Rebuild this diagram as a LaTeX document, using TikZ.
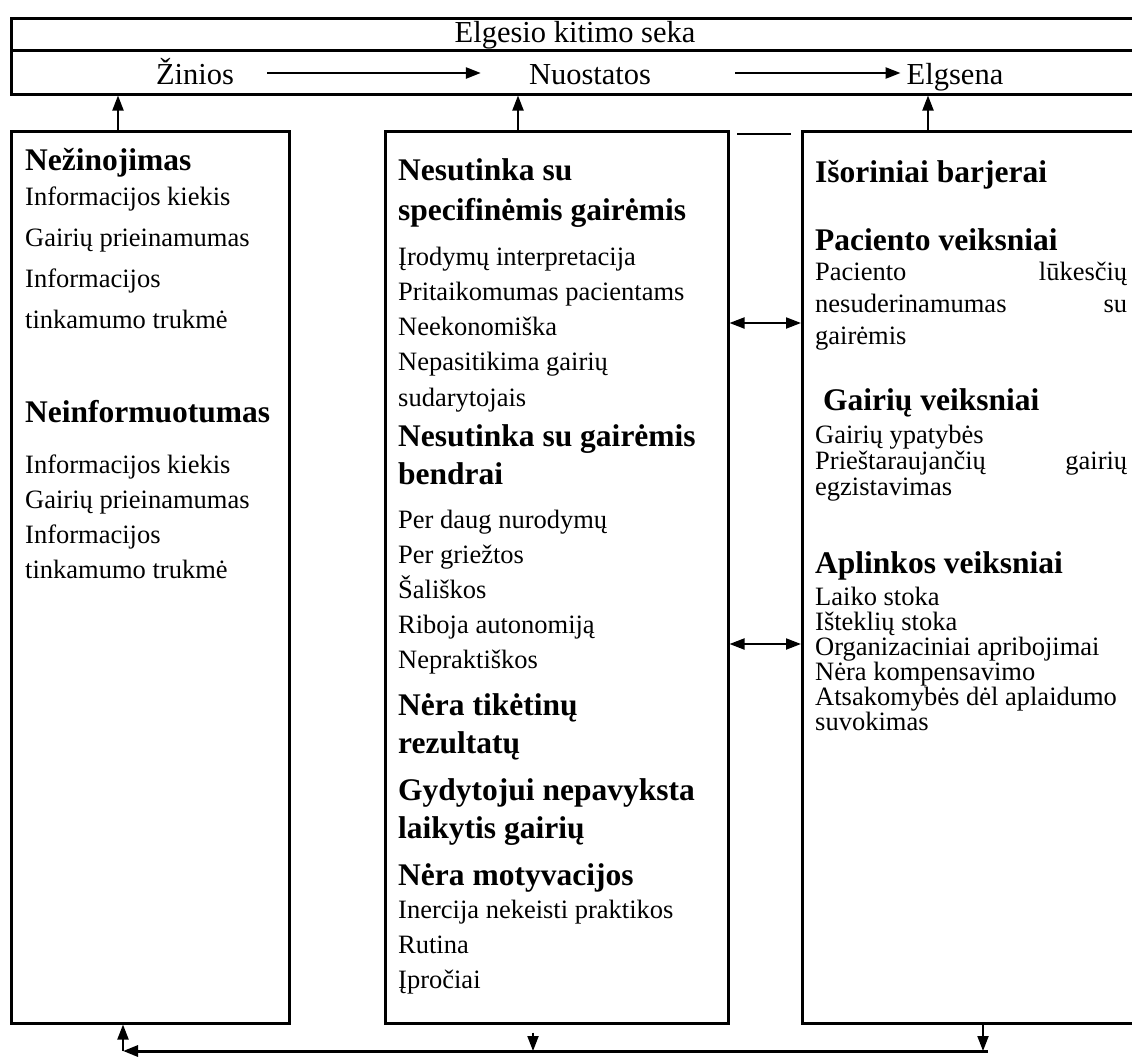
\documentclass[tikz,border=0pt]{standalone}
\usepackage{fontspec}
\setmainfont{Liberation Serif}
\usetikzlibrary{arrows.meta}

\begin{document}
\begin{tikzpicture}[x=1pt,y=-1pt,
    box/.style={draw,line width=2.5pt,anchor=north west,inner sep=0pt},
    hdr/.style={inner sep=0pt,font=\fontsize{30.5pt}{34pt}\selectfont},
    head/.style={anchor=base west,inner sep=0pt,align=left,font=\bfseries\fontsize{31.5pt}{#1}\selectfont},
    head/.default=38pt,
    body/.style={anchor=base west,inner sep=0pt,align=left,font=\fontsize{26.5pt}{#1}\selectfont},
    body/.default=35pt,
    arr/.style={-{Triangle[length=15pt,width=11pt]},line width=2pt},
    darr/.style={{Triangle[length=15pt,width=11pt]}-{Triangle[length=15pt,width=11pt]},line width=2pt}]
    \clip (0,0) rectangle (1132,1058);
    \fill[white] (0,0) rectangle (1132,1058);
    % header
    \node[box,minimum width=1135pt,minimum height=32pt] (seq) at (10,17) {};
    \node[box,minimum width=1135pt,minimum height=44pt] (row) at (10,49) {};
    \node[hdr,anchor=base] (seka) at (575,42) {Elgesio kitimo seka};
    \node[hdr,anchor=base] (zin) at (195,84) {Žinios};
    \node[hdr,anchor=base] (nuo) at (590,84) {Nuostatos};
    \node[hdr,anchor=base] (elg) at (955,84) {Elgsena};
    \coordinate (mid) at (0,73);
    \draw [arr,line width=2.5pt] ([xshift=33pt]zin.east |- mid) -- ([xshift=-48pt]nuo.west |- mid);
    \draw [arr,line width=2.5pt] ([xshift=84pt]nuo.east |- mid) -- ([xshift=-6pt]elg.west |- mid);
    % boxes
    \node[box,minimum width=278pt,minimum height=892pt] (lbox) at (10,130) {};
    \node[box,minimum width=343pt,minimum height=892pt] (mbox) at (384,130) {};
    \node[box,minimum width=345pt,minimum height=892pt] (rbox) at (801,130) {};
    \coordinate (lup) at (118,130);
    \coordinate (mup) at (518,130);
    \coordinate (rup) at (928,130);
    \draw [arr] (lup) -- (lup |- row.south);
    \draw [arr] (mup) -- (mup |- row.south);
    \draw [arr] (rup) -- (rup |- row.south);
    \draw [line width=2pt] (737,134) -- (791,134);
    % left (multi-line nodes sit on their last line)
    \node[head] (nez) at (25,170) {Nežinojimas};
    \node[body=40.7pt] (nezl) at (25,328) {Informacijos kiekis\\Gairių prieinamumas\\Informacijos\\tinkamumo trukmė};
    \node[head] (nei) at (25,422) {Neinformuotumas};
    \node[body=35pt] (neil) at (25,578) {Informacijos kiekis\\Gairių prieinamumas\\Informacijos\\tinkamumo trukmė};
    % middle
    \node[head=40pt] (spec) at (398,220) {Nesutinka su\\specifinėmis gairėmis};
    \node[body=35.25pt] (specl) at (398,406) {Įrodymų interpretacija\\Pritaikomumas pacientams\\Neekonomiška\\Nepasitikima gairių\\sudarytojais};
    \node[head] (bend) at (398,484) {Nesutinka su gairėmis\\bendrai};
    \node[body] (bendl) at (398,668) {Per daug nurodymų\\Per griežtos\\Šališkos\\Riboja autonomiją\\Nepraktiškos};
    \node[head] (rez) at (398,753) {Nėra tikėtinų\\rezultatų};
    \node[head] (gyd) at (398,838) {Gydytojui nepavyksta\\laikytis gairių};
    \node[head] (mot) at (398,885) {Nėra motyvacijos};
    \node[body] (motl) at (398,988) {Inercija nekeisti praktikos\\Rutina\\Įpročiai};
    % right
    \node[head] (isor) at (815,182) {Išoriniai barjerai};
    \node[head] (pac) at (815,250) {Paciento veiksniai};
    \node[body=32pt] (pacl) at (815,344) {\makebox[312pt][s]{Paciento lūkesčių}\\\makebox[312pt][s]{nesuderinamumas su}\\gairėmis};
    \node[head] (gai) at (823,410) {Gairių veiksniai};
    \node[body=26pt] (gail) at (815,495) {Gairių ypatybės\\\makebox[312pt][s]{Prieštaraujančių gairių}\\egzistavimas};
    \node[head] (apl) at (815,573) {Aplinkos veiksniai};
    \node[body=25pt] (apll) at (815,730) {Laiko stoka\\Išteklių stoka\\Organizaciniai apribojimai\\Nėra kompensavimo\\Atsakomybės dėl aplaidumo\\suvokimas};
    % links between boxes
    \coordinate (da) at (0,323);
    \coordinate (db) at (0,644);
    \draw [darr] (mbox.east |- da) -- (rbox.west |- da);
    \draw [darr] (mbox.east |- db) -- (rbox.west |- db);
    % feedback
    \coordinate (bl) at (123,1051);
    \coordinate (bm) at (533,1051);
    \coordinate (br) at (983,1051);
    \draw [arr] (bl) -- (bl |- lbox.south);
    \draw [arr,line width=3pt] ([xshift=5pt]br) -- (bl);
    \draw [arr] ([yshift=-8pt]mbox.south -| bm) -- (bm);
    \draw [arr] (rbox.south -| br) -- (br);
\end{tikzpicture}
\end{document}
